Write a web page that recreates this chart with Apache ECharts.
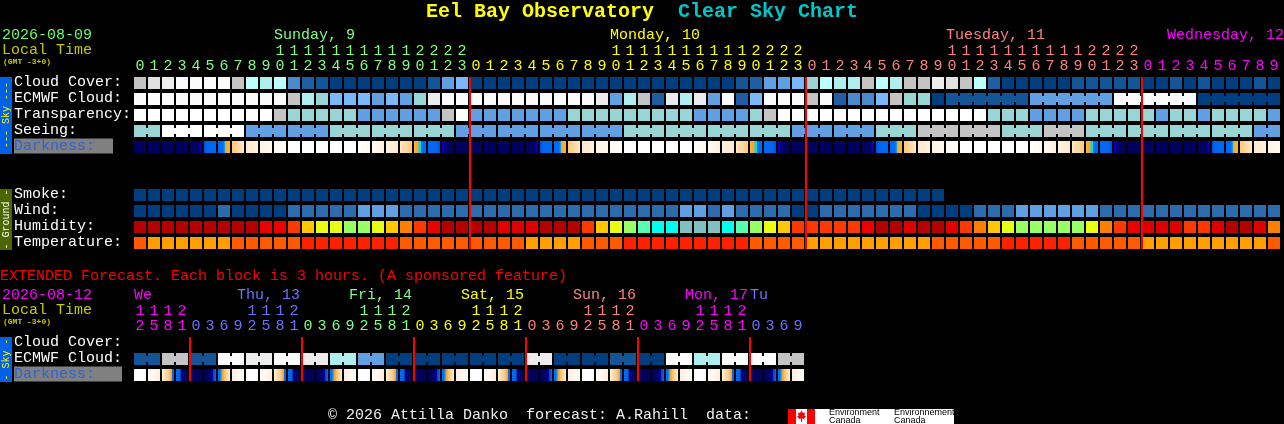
<!DOCTYPE html>
<html><head><meta charset="utf-8">
<style>html,body{margin:0;padding:0;background:#000}#c{width:1284px;height:424px}</style>
<script src="https://cdn.jsdelivr.net/npm/echarts@6/dist/echarts.min.js"></script>
</head><body><div id="c"></div>
<script>
// ---------- tick labels ----------
const mainHours = [0,1,2,3,4,5,6,7,8,9,10,11,12,13,14,15,16,17,18,19,20,21,22,23,
  0,1,2,3,4,5,6,7,8,9,10,11,12,13,14,15,16,17,18,19,20,21,22,23,
  0,1,2,3,4,5,6,7,8,9,10,11,12,13,14,15,16,17,18,19,20,21,22,23,
  0,1,2,3,4,5,6,7,8,9];
const extHours = [12,15,18,21, 0,3,6,9,12,15,18,21, 0,3,6,9,12,15,18,21, 0,3,6,9,12,15,18,21,
  0,3,6,9,12,15,18,21, 0,3,6,9,12,15,18,21, 0,3,6,9];
const mainRows = ['Cloud Cover:','ECMWF Cloud:','Transparency:','Seeing:','Darkness:','','','Smoke:','Wind:','Humidity:','Temperature:'];
const extRows = ['Cloud Cover:','ECMWF Cloud:','Darkness:'];
const mainDayStarts = [0,24,48,72];
const extDayStarts = [0,4,12,20,28,36,44];
const mainDayNames = ['Sunday, 9','Monday, 10','Tuesday, 11','Wednesday, 12'];
const mainDayCols = [10,34,58,74];
const extDayNames = ['We','Thu, 13','Fri, 14','Sat, 15','Sun, 16','Mon, 17','Tu'];
const extDayCols = [0,11,19,27,35,43,44];

// ---------- series values (palette indices per block) ----------
const cloudCover = [9,10,11,12,12,12,12,9,8,7, 8,3,2,1,0,0,0,0,0,0, 0,1,4,5,0,0,0,0,0,0,
  0,0,0,0,0,0,0,0,0,0, 0,0,0,1,2,4,4,5,6,8, 7,7,9,8,7,9,9,11,10,9, 8,2,0,0,0,0,0,1,1,1, 1,1,0,0,1,0,1,0,0,0, 1,0];
const ecmwfCloud = [12,12,12,12,12,12,12,12,12,12, 12,9,7,6,5,5,5,4,5,4, 6,11,12,12,12,12,12,12,12,12,
  12,12,12,11,4,7,9,2,11,7, 11,4,12,2,5,12,12,12,9,12, 2,3,3,5,9,6,6,0,1,1, 1,1,1,1,4,4,4,4,4,4, 12,12,12,12,12,12,0,0,0,0, 0,0];
const transparency = [13,13,13,13,13,13,13,13,13,13, 9,6,6,6,6,6,4,4,4,4, 4,4,9,13,4,4,4,4,4,4,
  4,6,6,6,6,6,6,6,6,6, 4,4,4,4,6,9,13,13,13,13, 13,13,13,13,13,13,13,13,13,13, 13,6,6,6,4,4,4,4,6,6, 6,6,6,4,6,6,4,6,6,6, 6,4];
const seeingSpans = [2,3,3,3,3,3,3,3,3,3,3,3,3,3,3,3,3,3,3,3,3,3,3,3,3,3,3,2];
const seeingValues = [6,13,13,4,4,6,6,6,4,4,4,4,6,6,6,6,4,4,6,9,9,6,9,6,6,6,6,4];
const ecmwfSpans = [[58,6],[64,6],[70,6],[76,6]];
const darkness = [0,0,0,0,1,2,3,4,5,6, 7,8,8,8,8,8,9,10,11,12, 13,14,15,0,0,0,0,0,1,2,
  3,4,5,6,7,8,8,8,8,8, 9,10,11,12,13,14,15,0,0,0, 0,0,1,2,3,4,5,6,7,8, 8,8,8,8,9,10,11,12,13,14, 15,0,0,0,0,0,1,2,3,4, 5,6];
const smoke = [0,0,0,0,0,0,0,0,0,0, 0,0,0,0,0,0,0,0,0,0, 0,0,0,0,0,0,0,0,0,0,
  0,0,0,0,0,0,0,0,0,0, 0,0,0,0,0,0,0,0,0,0, 0,0,0,0,0,0,0,0];
const wind = [0,0,0,0,0,0,1,0,0,0, 0,1,1,1,1,1,2,2,2,1, 1,1,1,1,1,1,1,1,1,1,
  1,1,1,1,1,1,1,1,1,2, 2,1,2,1,1,1,1,0,0,1, 1,1,1,1,1,1,0,0,0,0, 1,1,1,2,2,2,2,2,2,1, 1,1,1,1,1,1,1,1,1,1, 1,1];
const humidity = [0,0,0,0,0,0,0,0,0,2, 2,3,5,6,6,7,7,6,5,4, 3,2,0,0,0,0,1,1,1,0,
  0,0,3,5,6,7,8,9,9,10, 10,10,9,8,7,6,5,3,3,3, 3,3,2,0,0,1,0,0,1,3, 4,5,6,7,7,7,7,7,6,4, 3,2,1,1,1,3,3,1,0,0, 1,4];
const temperature = [1,0,0,0,0,0,0,1,1,1, 1,1,2,2,2,2,2,2,2,1, 1,1,1,1,1,1,1,1,0,0,
  0,0,1,1,1,2,2,2,2,2, 2,2,2,2,1,1,1,1,0,0, 0,0,0,0,0,0,0,1,1,1, 1,1,2,2,2,2,2,1,1,1, 1,1,0,0,0,0,0,0,0,0, 0,1];
const extEcmwf = [1,1,9,9,1,1,12,12,11,11,12,12,11,11,7,7,4,4,0,0,0,0,0,0,0,0,0,0,11,11,0,0,0,0,1,1,0,0,12,12,7,7,12,12,12,12,9,9];
const extDarkness = [8,16,17,18,19,20,21,22, 8,16,17,18,19,20,21,22, 8,16,17,18,19,20,21,22, 8,16,17,18,19,20,21,22,
  8,16,17,18,19,20,21,22, 8,16,17,18,19,20,21,22];

// ---------- palettes ----------
const skyPalette = ['#003f7f','#135596','#1f5ea3','#4a8acb','#5f9fe2','#7bb8fb','#99d5d5','#aeeeee','#bcffff','#c4c4c4','#e0e0e0','#ececec','#fbfbfb','#ffffff'];
const smokePalette = ['#003f7f'];
const windPalette = ['#003f7f','#2c6cac','#5f9fe2'];
const humidityPalette = ['#b40000','#e00000','#ee0000','#ff3800','#ff8000','#ffc800','#e8ff14','#99ff66','#57ffb0','#00ffee','#80c0c0'];
const temperaturePalette = ['#ffa000','#ff5a00','#ff2000'];
const darkPalette = [
  [[0,'#00005f'],[1,'#00005f']],
  [[0,'#00005f'],[0.6,'#00005f'],[0.85,'#000090'],[1,'#0000d0']],
  [[0,'#0050d8'],[0.3,'#0068f0'],[1,'#0068f0']],
  [[0,'#0068f0'],[0.4,'#0068f0'],[0.55,'#00a0ff'],[0.6,'#ffa020'],[1,'#ffb040']],
  [[0,'#ffc878'],[1,'#ffe8c4']],
  [[0,'#ffe8c8'],[1,'#fff2e0']],
  [[0,'#fff2e2'],[1,'#fffaf2']],
  [[0,'#fff8ee'],[1,'#ffffff']],
  [[0,'#ffffff'],[1,'#ffffff']],
  [[0,'#ffffff'],[1,'#fff8ee']],
  [[0,'#fffaf2'],[1,'#fff0dc']],
  [[0,'#fff2e2'],[1,'#ffe8c8']],
  [[0,'#ffe8c4'],[1,'#ffc878']],
  [[0,'#ffb040'],[0.35,'#ffa020'],[0.4,'#00e0e0'],[0.55,'#00e0e0'],[0.6,'#0070f0'],[1,'#0070f0']],
  [[0,'#0068f0'],[0.7,'#0068f0'],[1,'#0050d8']],
  [[0,'#0000d0'],[0.2,'#000090'],[0.5,'#00005f'],[1,'#00005f']],
  [[0,'#ffffff'],[1,'#ffeeda']],
  [[0,'#ffeeda'],[0.6,'#ffc878'],[0.8,'#ffa020'],[0.83,'#0068f0'],[1,'#0068f0']],
  [[0,'#0068f0'],[0.35,'#0068f0'],[0.4,'#0000a0'],[0.6,'#00005f'],[1,'#00005f']],
  [[0,'#00005f'],[1,'#00005f']],
  [[0,'#00005f'],[0.5,'#00005f'],[0.6,'#0000a0'],[0.75,'#0000a0'],[0.8,'#0050d8'],[1,'#0068f0']],
  [[0,'#0068f0'],[0.2,'#0080f8'],[0.3,'#00d0e0'],[0.38,'#ffa020'],[0.6,'#ffc878'],[1,'#ffeeda']],
  [[0,'#ffeeda'],[1,'#ffffff']]
];
const darkFill = darkPalette.map(s => new echarts.graphic.LinearGradient(0,0,1,0,s.map(([o,c])=>({offset:o,color:c}))));

// ---------- layout helpers ----------
const FONT = '"Liberation Mono", monospace';
const WHITE='#ffffff', GREEN='#66ff66', LIME='#80ff80', YEL='#ffff00', SALMON='#ff8080', MAG='#ff00ff', BLUE='#7070ff', OLIVE='#c8c800';
const mainDayColors=[LIME,YEL,SALMON,MAG];
const extDayColors=[MAG,BLUE,LIME,YEL,SALMON,MAG,BLUE];
function dayColor(starts,colors,i){let k=0;starts.forEach((s,j)=>{if(i>=s)k=j;});return colors[k];}
function colsFromSpans(spans){let out=[],c=0;spans.forEach(s=>{out.push([c,s]);c+=s;});return out;}
function expand(spans,vals){let out=[];spans.forEach((s,i)=>{for(let k=0;k<s;k++)out.push(vals[i]);});return out;}
function joinSet(runs){const set=new Set();runs.forEach(([c,s])=>{for(let k=0;k<s-1;k++)set.add(c+k);});return set;}

function cellSeries(gridIndex,row,values,fills,runs){
  const joins=joinSet(runs||[]);
  return {
    type:'custom',coordinateSystem:'cartesian2d',xAxisIndex:gridIndex,yAxisIndex:gridIndex,silent:true,z:2,clip:false,
    animation:false,
    encode:{x:0,y:1},
    data:values.map((v,i)=>[i,row,v,joins.has(i)?1:0]),
    renderItem(p,api){
      const c=api.coord([api.value(0),api.value(1)]);
      const bw=api.size([1,1]);
      const w=bw[0]-2,h=bw[1]-4;
      const fill=fills[api.value(2)];
      const x=c[0]-w/2,y=c[1]-h/2;
      const kids=[{type:'rect',shape:{x,y,width:w,height:h},style:{fill}}];
      if(api.value(3)) kids.push({type:'rect',shape:{x:x+w,y:y+3,width:bw[0]-w,height:h-6},style:{fill}});
      return {type:'group',children:kids};
    }
  };
}
function boundarySeries(gridIndex,cols,lastRow){
  return {
    type:'custom',coordinateSystem:'cartesian2d',xAxisIndex:gridIndex,yAxisIndex:gridIndex,silent:true,z:5,clip:false,animation:false,
    encode:{x:0,y:1},
    data:cols.map(c=>[c,0]),
    renderItem(p,api){
      const top=api.coord([api.value(0),0]);
      const bot=api.coord([api.value(0),lastRow]);
      const bw=api.size([1,1]);
      return {type:'rect',shape:{x:top[0]-bw[0]/2,y:top[1]-6,width:2,height:bot[1]-top[1]+12},style:{fill:'#ff0000'}};
    }
  };
}
function dayLabelSeries(gridIndex,names,cols,colors,alignOf,nudge){
  return {
    type:'custom',coordinateSystem:'cartesian2d',xAxisIndex:gridIndex,yAxisIndex:gridIndex,silent:true,z:3,clip:false,animation:false,
    encode:{x:0,y:1},
    data:names.map((n,i)=>[cols[i],0,i]),
    renderItem(p,api){
      const i=api.value(2);
      const c=api.coord([api.value(0),0]);
      const a=alignOf(i);
      return {type:'text',style:{text:names[i],x:(a==='right'?c[0]+6:c[0]-6)+(nudge?nudge[i]:0),y:c[1]-48,fill:colors[i],font:'15px '+FONT,align:a,verticalAlign:'middle'}};
    }
  };
}
function xAxisFor(gridIndex,hours,starts,colors){
  return {type:'category',gridIndex,position:'top',data:hours.map(String),boundaryGap:true,
    axisLine:{show:false},axisTick:{show:false},splitLine:{show:false},
    axisLabel:{show:true,interval:0,margin:1,fontFamily:FONT,fontSize:15,lineHeight:15,hideOverlap:false,
      color:(v,i)=>dayColor(starts,colors,i),
      formatter:(v)=>{const h=+v;return (h>=10?Math.floor(h/10):' ')+'\n'+(h%10);}}};
}
function yAxisFor(gridIndex,rows,greyWidth){
  return {type:'category',gridIndex,inverse:true,data:rows,
    axisLine:{show:false},axisTick:{show:false},splitLine:{show:false},
    axisLabel:{show:true,interval:0,margin:119,align:'left',padding:[0,0,2,0],fontFamily:FONT,fontSize:15,color:WHITE,hideOverlap:false,
      formatter:(v)=>v==='Darkness:'?'{d|Darkness:}':v,
      rich:{d:{color:'#2a62dc',backgroundColor:'#808080',width:greyWidth,height:15,lineHeight:15,fontFamily:FONT,fontSize:15,align:'left'}}}};
}
function txt(x,y,text,fill,size,weight){return {type:'text',silent:true,z:10,style:{x,y,text,fill,font:(weight||'normal')+' '+size+'px '+FONT,verticalAlign:'middle'}};}
function rect(x,y,w,h,fill){return {type:'rect',silent:true,z:9,shape:{x,y,width:w,height:h},style:{fill}};}
function sideLabel(cx,cy,text,fill){return {type:'text',silent:true,z:10,x:cx,y:cy,rotation:Math.PI/2*1,style:{x:0,y:0,text,fill,font:'10px '+FONT,align:'center',verticalAlign:'middle'}};}

const seeingRuns = colsFromSpans(seeingSpans);
const extRuns = colsFromSpans(extHours.filter((_,i)=>i%2===0).map(()=>2));
const sky = skyPalette;

const option = {
  backgroundColor:'#000000',
  animation:false,
  grid:[{left:133,top:75,width:1148,height:176,containLabel:false},{left:133,top:335,width:672,height:48,containLabel:false}],
  xAxis:[xAxisFor(0,mainHours,mainDayStarts,mainDayColors),xAxisFor(1,extHours,extDayStarts,extDayColors)],
  yAxis:[yAxisFor(0,mainRows,99),yAxisFor(1,extRows,108)],
  series:[
    cellSeries(0,0,cloudCover,sky),
    cellSeries(0,1,ecmwfCloud,sky,ecmwfSpans),
    cellSeries(0,2,transparency,sky),
    cellSeries(0,3,expand(seeingSpans,seeingValues),sky,seeingRuns),
    cellSeries(0,4,darkness,darkFill),
    cellSeries(0,7,smoke,smokePalette),
    cellSeries(0,8,wind,windPalette),
    cellSeries(0,9,humidity,humidityPalette),
    cellSeries(0,10,temperature,temperaturePalette),
    boundarySeries(0,mainDayStarts.slice(1),10),
    dayLabelSeries(0,mainDayNames,mainDayCols,[LIME,YEL,SALMON,MAG],()=> 'left',[0,0,0,-3]),
    cellSeries(1,1,extEcmwf,sky,extRuns),
    cellSeries(1,2,extDarkness,darkFill),
    boundarySeries(1,extDayStarts.slice(1),2),
    dayLabelSeries(1,extDayNames,extDayCols,extDayColors,i=>(i===0||i===6)?'left':'right')
  ],
  graphic:{elements:[
    txt(426,12,'Eel Bay Observatory',YEL,20,'bold'),
    txt(678,12,'Clear Sky Chart','#00c8c8',20,'bold'),
    txt(2,35,'2026-08-09',GREEN,15),
    txt(2,50,'Local Time',OLIVE,15),
    txt(3,62,'(GMT -3+0)',OLIVE,8,'bold'),
    txt(0,276,'EXTENDED Forecast. Each block is 3 hours. (A sponsored feature)','#ff0000',15),
    txt(2,295,'2026-08-12',MAG,15),
    txt(2,310,'Local Time',OLIVE,15),
    txt(3,322,'(GMT -3+0)',OLIVE,8,'bold'),
    rect(0,77,12,77,'#0060e8'),
    sideLabel(6,115,'--- Sky ---',YEL),
    rect(0,189,12,61,'#4c6600'),
    sideLabel(6,219.5,'- Ground -',WHITE),
    rect(0,337,12,45,'#0060e8'),
    sideLabel(6,359.5,'- Sky -',YEL),
    txt(328,415,'\u00a9 2026 Attilla Danko  forecast: A.Rahill  data:','#f0f0f0',15),
    rect(788,409,166,15,'#ffffff'),
    rect(788,409,8,15,'#ff0000'),
    rect(807,409,8,15,'#ff0000'),
    {type:'polygon',silent:true,z:10,shape:{points:[[801.5,410.5],[803,413],[805,412.5],[804.5,416],[806,416],[804,419],[802,418.5],[802,422],[801,422],[801,418.5],[799,419],[797,416],[798.5,416],[798,412.5],[800,413]]},style:{fill:'#ff0000'}},
    {type:'text',silent:true,z:10,style:{x:829,y:413,text:'Environment',fill:'#000',font:'9px "Liberation Sans"',verticalAlign:'middle'}},
    {type:'text',silent:true,z:10,style:{x:829,y:421,text:'Canada',fill:'#000',font:'9px "Liberation Sans"',verticalAlign:'middle'}},
    {type:'text',silent:true,z:10,style:{x:894,y:413,text:'Environnement',fill:'#000',font:'9px "Liberation Sans"',verticalAlign:'middle'}},
    {type:'text',silent:true,z:10,style:{x:894,y:421,text:'Canada',fill:'#000',font:'9px "Liberation Sans"',verticalAlign:'middle'}}
  ]}
};
const chart = echarts.init(document.getElementById('c'),null,{renderer:'canvas',width:1284,height:424});
chart.setOption(option);
</script>
</body></html>
